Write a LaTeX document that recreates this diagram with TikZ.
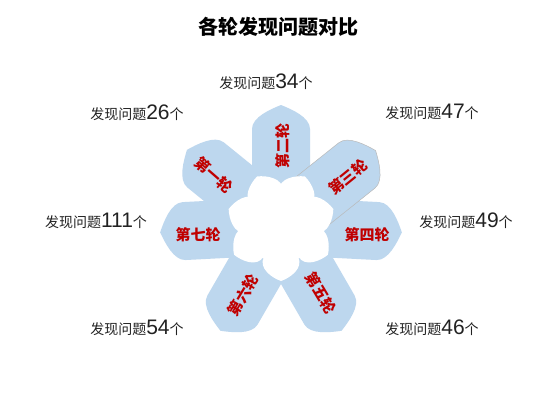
\documentclass[tikz,border=0pt]{standalone}
\usepackage{fontspec}
\newfontfamily\cjk{Noto Sans CJK SC}
\newfontfamily\numfont{Liberation Sans}
\definecolor{petalblue}{HTML}{BDD7EE}
\definecolor{petalred}{HTML}{C00000}
\definecolor{labelgray}{HTML}{222222}
\newcommand\findlabel[1]{{\cjk\fontsize{14}{16}\selectfont 发现问题}{\numfont\fontsize{21}{22}\selectfont #1}{\cjk\fontsize{14}{16}\selectfont 个}}
\newcommand\drawpetal[2]{%
  \begin{scope}[shift={(281,226)}, rotate=#1]
    \fill[petalblue,#2] (30,-29) -- (97,-29) .. controls (109,-29) and (117,-10) .. (121,0)
      .. controls (117,10) and (109,29) .. (97,29) -- (30,29) -- cycle;
  \end{scope}}
\newcommand\drawlobe[1]{%
  \begin{scope}[shift={(281,226)}, rotate=#1]
    \fill[white] (0,0) -- (31,-17) .. controls (42,-23) and (52,-9) .. (55,0)
      .. controls (52,9) and (42,23) .. (31,17) -- cycle;
  \end{scope}}
\tikzset{
  petaltext/.style={text=petalred, font=\cjk\bfseries\fontsize{15}{16}\selectfont, inner sep=0pt},
  countlabel/.style={text=labelgray, inner sep=0pt},
  titletext/.style={text=black, font=\cjk\bfseries\fontsize{20}{22}\selectfont, inner sep=0pt}
}
\begin{document}
\begin{tikzpicture}[x=1pt,y=-1pt]
\useasboundingbox[fill=white] (0,0) rectangle (560,400);
\node[titletext] (title) at (278,27) {各轮发现问题对比};
% petals
\drawpetal{90}{}
\drawpetal{141}{}
\drawpetal{183}{}
\drawpetal{240}{}
\drawpetal{300}{}
\drawpetal{-3}{}
\drawpetal{38.6}{draw=gray!55, line width=0.5pt}
% white centre
\fill[white] (281,226) circle (37);
\drawlobe{115.7}
\drawlobe{162}
\drawlobe{211.5}
\drawlobe{270}
\drawlobe{328.5}
\drawlobe{18}
\drawlobe{64.3}
% petal texts
\node[petaltext, rotate=90] (r2) at (283,146) {第二轮};
\node[petaltext, rotate=39] (r3) at (348,177) {第三轮};
\node[petaltext, rotate=-41] (r1) at (214,175) {第一轮};
\node[petaltext] (r7) at (198,235) {第七轮};
\node[petaltext] (r4) at (367,235) {第四轮};
\node[petaltext, rotate=59] (r6) at (243,295) {第六轮};
\node[petaltext, rotate=-59] (r5) at (321,293) {第五轮};
% count labels
\node[countlabel] (c2) at (266,82) {\findlabel{34}};
\node[countlabel] (c1) at (137,113) {\findlabel{26}};
\node[countlabel] (c3) at (432,112) {\findlabel{47}};
\node[countlabel] (c7) at (96,221) {\findlabel{111}};
\node[countlabel] (c4) at (466,221) {\findlabel{49}};
\node[countlabel] (c6) at (137,328) {\findlabel{54}};
\node[countlabel] (c5) at (432,328) {\findlabel{46}};
\end{tikzpicture}
\end{document}
